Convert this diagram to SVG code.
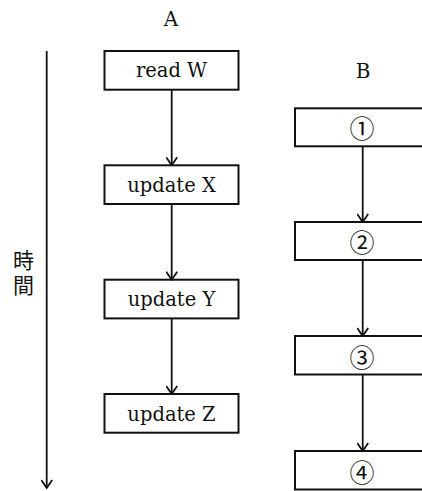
<svg xmlns="http://www.w3.org/2000/svg" width="422" height="491" viewBox="0 0 422 491">
<style>
.box{fill:#fff;stroke:#111;stroke-width:2}
.lbl{font-family:"DejaVu Serif","Liberation Serif",serif;font-size:19.5px;fill:#111;text-anchor:middle}
.num{font-family:"Noto Sans CJK JP","DejaVu Sans",sans-serif;font-size:25px;fill:#111;text-anchor:middle;dominant-baseline:central}
.hd{font-family:"DejaVu Serif","Liberation Serif",serif;font-size:20px;fill:#111;text-anchor:middle}
.jp{font-family:"Noto Sans CJK JP",sans-serif;font-size:21px;fill:#111;writing-mode:vertical-rl;letter-spacing:4px}
.ln{stroke:#111;stroke-width:1.8;fill:none}
</style>
<defs>
<marker id="ahv" viewBox="0 0 12 12" refX="11" refY="6" markerWidth="12" markerHeight="12" markerUnits="userSpaceOnUse" orient="auto">
<path d="M3,0.5 L11,6 L3,11.5" fill="none" stroke="#111" stroke-width="1.8"/>
</marker>
</defs>
<g id="headers">
<text class="hd" x="171" y="26">A</text>
<text class="hd" x="363" y="78">B</text>
</g>
<g id="time-axis">
<line class="ln" x1="46.7" y1="51" x2="46.7" y2="488" marker-end="url(#ahv)"/>
<text class="jp" x="23.5" y="250">時間</text>
</g>
<g id="A-readW"><rect class="box" x="104.5" y="51" width="134" height="38.7"/><text class="lbl" x="171.5" y="77">read W</text></g>
<g id="A-updateX"><rect class="box" x="104.5" y="165.3" width="134" height="38.7"/><text class="lbl" x="171.5" y="191.5">update X</text></g>
<g id="A-updateY"><rect class="box" x="104.5" y="279.7" width="134" height="38.7"/><text class="lbl" x="171.5" y="306">update Y</text></g>
<g id="A-updateZ"><rect class="box" x="104.5" y="394" width="134" height="38.7"/><text class="lbl" x="171.5" y="420.5">update Z</text></g>
<g id="B-1"><rect class="box" x="295" y="108.3" width="140" height="38"/><text class="num" x="362" y="127">①</text></g>
<g id="B-2"><rect class="box" x="295" y="222" width="140" height="38"/><text class="num" x="362" y="241">②</text></g>
<g id="B-3"><rect class="box" x="295" y="336" width="140" height="38.5"/><text class="num" x="362" y="355.5">③</text></g>
<g id="B-4"><rect class="box" x="295" y="451" width="140" height="38.5"/><text class="num" x="362" y="470.5">④</text></g>
<g id="connectors">
<line class="ln" x1="171.7" y1="89.7" x2="171.7" y2="165.3" marker-end="url(#ahv)"/>
<line class="ln" x1="171.7" y1="204" x2="171.7" y2="279.7" marker-end="url(#ahv)"/>
<line class="ln" x1="171.7" y1="318.4" x2="171.7" y2="394" marker-end="url(#ahv)"/>
<line class="ln" x1="362.7" y1="146.3" x2="362.7" y2="222" marker-end="url(#ahv)"/>
<line class="ln" x1="362.7" y1="260" x2="362.7" y2="336" marker-end="url(#ahv)"/>
<line class="ln" x1="362.7" y1="374.5" x2="362.7" y2="451" marker-end="url(#ahv)"/>
</g>
</svg>
